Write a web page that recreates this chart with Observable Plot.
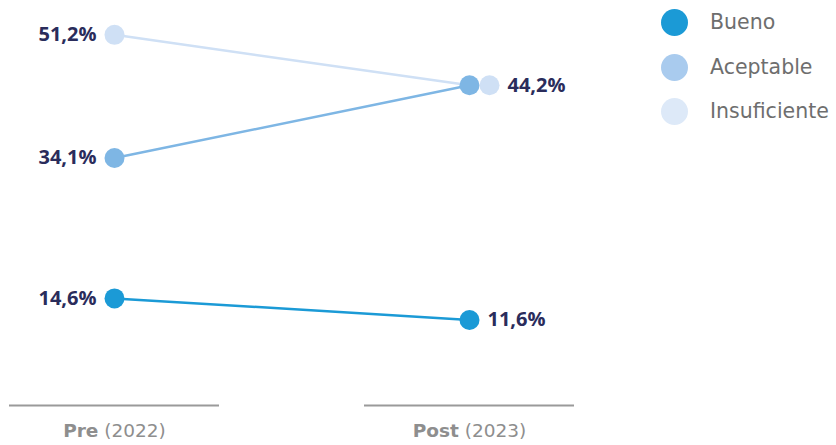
<!DOCTYPE html>
<html>
<head>
<meta charset="utf-8">
<script src="https://cdn.jsdelivr.net/npm/d3@7"></script>
<script src="https://cdn.jsdelivr.net/npm/@observablehq/plot@0.6"></script>
<style>
  body { margin: 0; background: #fff; }
  #wrap { position: relative; width: 836px; height: 445px; }
  #legend { position: absolute; left: 661px; top: 0px; font-family: "DejaVu Sans", sans-serif; font-weight: 400; }
  .item { position: absolute; display: flex; align-items: center; white-space: nowrap; height: 30px; }
  .sw { width: 27px; height: 27px; border-radius: 50%; flex: none; }
  .lab { margin-left: 22px; font-size: 20.5px; color: #6e6e6e; }
</style>
</head>
<body>
<div id="wrap"><div id="chart"></div><div id="legend"></div></div>
<script>
// ---- data ----
const periods = ["Pre", "Post"];
const years = ["2022", "2023"];
const categories = ["Bueno", "Aceptable", "Insuficiente"];
const preValues = [14.6, 34.1, 51.2];
const postValues = [11.6, 44.2, 44.2];
const seriesColors = ["#1b9ad6", "#7eb6e4", "#cfe0f5"];
const legendColors = ["#1b9ad6", "#a9cbee", "#dde9f8"];

const rows = [];
categories.forEach((c, i) => {
  rows.push({cat: c, period: periods[0], value: preValues[i]});
  rows.push({cat: c, period: periods[1], value: postValues[i]});
});
const fmt = d => d.value.toFixed(1).replace(".", ",") + "%";
const isInsufPost = d => d.cat === "Insuficiente" && d.period === "Post";

const labelStyle = {fill: "#2a2c5b", fontWeight: 700, fontSize: 20, fontFamily: "'Open Sans', sans-serif"};

const chart = Plot.plot({
  width: 836,
  height: 445,
  marginLeft: 9,
  marginRight: 262,
  marginTop: 7,
  marginBottom: 42,
  style: {fontFamily: "'DejaVu Sans', sans-serif", background: "white"},
  x: {type: "band", domain: periods, paddingInner: 145 / 355, paddingOuter: 0, label: null},
  y: {domain: [0, 55], axis: null},
  color: {domain: categories, range: seriesColors},
  marks: [
    Plot.tickY(periods, {x: d => d, y: () => 0, stroke: "#9a9a9a", strokeWidth: 2, dy: 2}),
    Plot.axisX({tickSize: 0, tickPadding: 20, fontSize: 18.5, color: "#8e8e8e",
      tickFormat: d => d + " (" + years[periods.indexOf(d)] + ")"}),
    Plot.line(rows, {x: "period", y: "value", z: "cat", stroke: "cat", strokeWidth: 2.5}),
    Plot.dot(rows.filter(d => !isInsufPost(d)), {x: "period", y: "value", fill: "cat", r: 10}),
    Plot.dot(rows.filter(isInsufPost), {x: "period", y: "value", fill: "cat", r: 10, dx: 20}),
    Plot.text(rows.filter(d => d.period === "Pre"), {x: "period", y: "value", text: fmt, textAnchor: "end", dx: -18, ...labelStyle}),
    Plot.text(rows.filter(d => d.period === "Post" && d.cat === "Bueno"), {x: "period", y: "value", text: fmt, textAnchor: "start", dx: 18, ...labelStyle}),
    Plot.text(rows.filter(isInsufPost), {x: "period", y: "value", text: fmt, textAnchor: "start", dx: 38, ...labelStyle})
  ]
});
document.getElementById("chart").appendChild(chart);

// bold the period name in x tick labels
d3.select(chart).selectAll('g[aria-label="x-axis tick label"] text').each(function() {
  const t = this.textContent;
  const i = t.indexOf(" ");
  const sel = d3.select(this);
  sel.text(null);
  sel.append("tspan").attr("font-weight", 700).text(t.slice(0, i));
  sel.append("tspan").text(t.slice(i));
});

// legend
const legend = d3.select("#legend");
const legendY = [22, 67, 111];
categories.forEach((c, i) => {
  const it = legend.append("div").attr("class", "item").style("top", (legendY[i] - 15) + "px");
  it.append("div").attr("class", "sw").style("background", legendColors[i]);
  it.append("div").attr("class", "lab").text(c);
});
</script>
</body>
</html>
